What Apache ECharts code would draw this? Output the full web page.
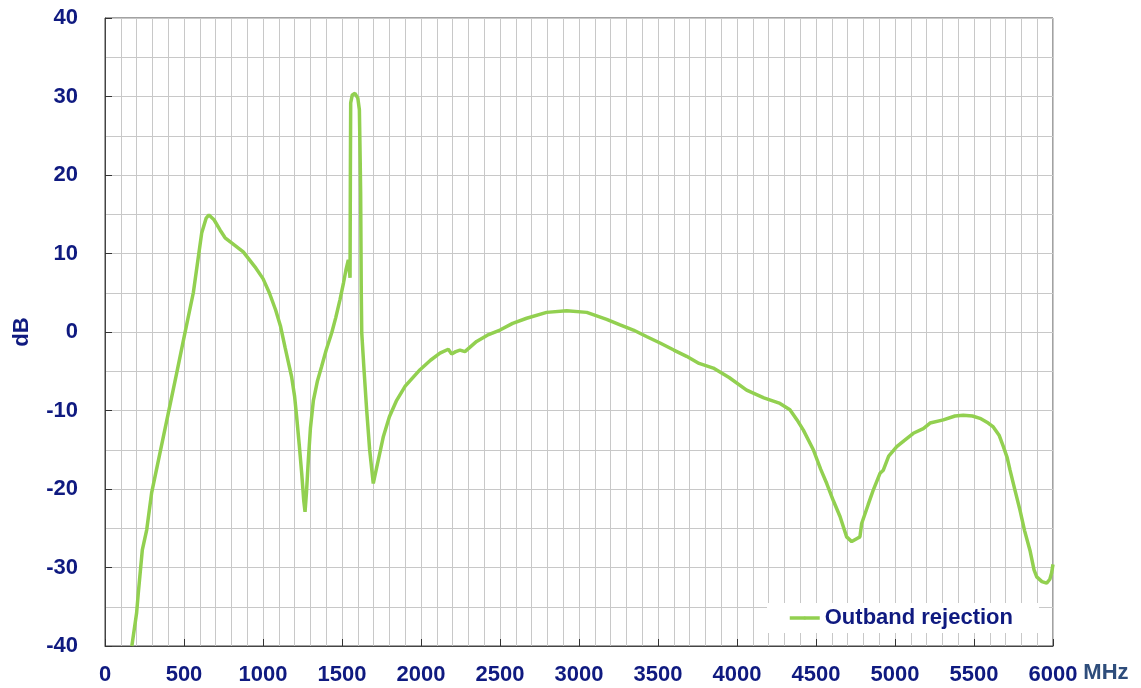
<!DOCTYPE html>
<html>
<head>
<meta charset="utf-8">
<title>Outband rejection</title>
<script src="https://cdn.jsdelivr.net/npm/echarts@6/dist/echarts.min.js"></script>
<style>
  html, body { margin: 0; padding: 0; background: #fff; }
  #chart { width: 1141px; height: 688px; }
</style>
</head>
<body>
<div id="chart"></div>
<script>
// frequency points (MHz)
const freqMHz = [
  170, 200, 211, 236, 264, 295, 348, 401, 454, 506, 559, 612, 640, 658, 690, 728, 760, 791, 875, 949,
  1000, 1040, 1080, 1110, 1140, 1160, 1181, 1200, 1213, 1230, 1245, 1258, 1266, 1275, 1287, 1300, 1319, 1345, 1371, 1400,
  1435, 1460, 1487, 1510, 1525, 1540, 1551, 1553, 1555, 1565, 1582, 1600, 1610, 1615, 1618, 1622, 1625, 1640, 1656, 1675,
  1698, 1720, 1762, 1800, 1846, 1900, 1994, 2060, 2120, 2173, 2194, 2220, 2247, 2278, 2352, 2420, 2500, 2580, 2669, 2795,
  2922, 3049, 3175, 3260, 3344, 3430, 3513, 3600, 3681, 3760, 3850, 3950, 4061, 4170, 4272, 4335, 4380, 4420, 4483, 4530,
  4568, 4610, 4652, 4694, 4726, 4760, 4778, 4789, 4830, 4863, 4905, 4926, 4960, 5011, 5060, 5116, 5179, 5222, 5306, 5380,
  5432, 5490, 5538, 5590, 5622, 5660, 5686, 5710, 5728, 5760, 5791, 5820, 5854, 5880, 5897, 5930, 5960, 5980, 5991, 6000
];
// rejection (dB) at those points
const rejectionDb = [
  -40, -35.8, -33.2, -27.8, -25.2, -20.5, -15.4, -10.3, -5.2, -0.1, 5.0, 12.6, 14.5, 14.9, 14.3, 13.0, 12.0, 11.5, 10.2, 8.3,
  6.8, 5.0, 2.8, 0.8, -2.0, -3.8, -5.7, -8.2, -10.8, -14.5, -18, -21.5, -22.9, -20.5, -16.3, -12.3, -8.7, -6.2, -4.4, -2.3,
  -0.1, 1.8, 4.1, 6.3, 7.9, 9.2, 6.9, 20, 29.2, 30.2, 30.4, 29.8, 28.3, 22, 17.7, 5, -0.1, -5, -9.9, -15,
  -19.3, -17.2, -13.3, -10.8, -8.7, -6.9, -4.8, -3.6, -2.7, -2.2, -2.8, -2.5, -2.3, -2.5, -1.2, -0.4, 0.25, 1.1, 1.75, 2.5,
  2.7, 2.5, 1.6, 0.9, 0.25, -0.6, -1.4, -2.3, -3.1, -4.0, -4.6, -5.8, -7.4, -8.4, -9.1, -9.9, -11.2, -12.5, -15, -17.5,
  -19.3, -21.5, -23.5, -26.1, -26.7, -26.3, -26.1, -24.4, -22, -20.1, -18, -17.6, -15.8, -14.6, -13.8, -12.9, -12.3, -11.6, -11.2, -10.7,
  -10.6, -10.7, -11, -11.6, -12.1, -13.2, -14.6, -16, -17.6, -20.2, -22.7, -25.3, -27.8, -30.3, -31.2, -31.8, -32, -31.5, -30.7, -29.6
];
const seriesName = 'Outband rejection';

const navy = '#0f1a80';
const font = 'Arial, "Liberation Sans", sans-serif';

let myChart = echarts.init(document.getElementById('chart'));
let option = {
  animation: false,
  backgroundColor: '#fff',
  grid: {
    left: 105,
    right: 88,
    top: 18,
    bottom: 42,
    show: true,
    borderColor: '#444',
    borderWidth: 1
  },
  legend: {
    data: [seriesName],
    left: 767,
    top: 603,
    padding: [4, 26, 4, 21],
    backgroundColor: '#fff',
    itemWidth: 30,
    itemHeight: 4,
    itemGap: 4,
    lineStyle: { width: 3.5 },
    textStyle: {
      color: navy,
      fontFamily: font,
      fontWeight: 'bold',
      fontSize: 22
    }
  },
  xAxis: {
    type: 'value',
    min: 0,
    max: 6000,
    interval: 500,
    name: 'MHz',
    nameLocation: 'end',
    nameGap: 30,
    nameTextStyle: {
      color: '#2e4d7b',
      fontFamily: font,
      fontWeight: 'bold',
      fontSize: 22,
      verticalAlign: 'top',
      padding: [16, 0, 0, 0]
    },
    axisLine: { onZero: false, lineStyle: { color: '#444', width: 1 } },
    axisTick: { inside: true, length: 7, lineStyle: { color: '#333' } },
    minorTick: { show: false, splitNumber: 5 },
    splitLine: { show: true, lineStyle: { color: '#c8c8c8', width: 1 } },
    minorSplitLine: { show: true, lineStyle: { color: '#c8c8c8', width: 1 } },
    axisLabel: {
      color: navy,
      fontFamily: font,
      fontWeight: 'bold',
      fontSize: 22,
      margin: 18,
      formatter: v => String(v)
    }
  },
  yAxis: {
    type: 'value',
    min: -40,
    max: 40,
    interval: 10,
    name: 'dB',
    nameLocation: 'middle',
    nameGap: 72,
    nameTextStyle: {
      color: navy,
      fontFamily: font,
      fontWeight: 'bold',
      fontSize: 22
    },
    axisLine: { show: true, lineStyle: { color: '#444', width: 1 } },
    axisTick: { show: true, inside: true, length: 7, lineStyle: { color: '#333' } },
    minorTick: { show: false, splitNumber: 2 },
    splitLine: { show: true, lineStyle: { color: '#c8c8c8', width: 1 } },
    minorSplitLine: { show: true, lineStyle: { color: '#c8c8c8', width: 1 } },
    axisLabel: {
      color: navy,
      fontFamily: font,
      fontWeight: 'bold',
      fontSize: 22,
      margin: 27,
      formatter: v => String(v)
    }
  },
  series: [{
    name: seriesName,
    type: 'line',
    data: freqMHz.map((f, i) => [f, rejectionDb[i]]),
    symbol: 'none',
    smooth: false,
    lineStyle: { color: '#92d050', width: 3.5 },
    itemStyle: { color: '#92d050' }
  }]
};
myChart.setOption(option);
</script>
</body>
</html>
